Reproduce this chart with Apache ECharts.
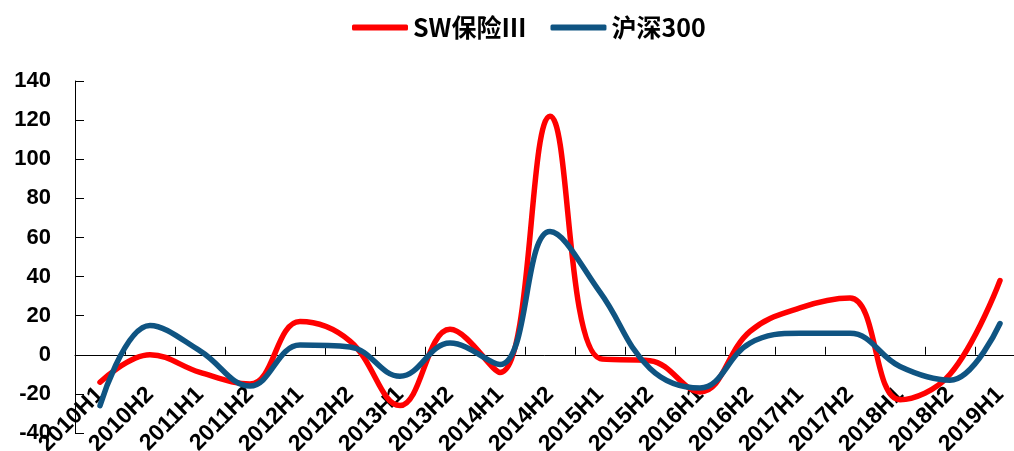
<!DOCTYPE html>
<html>
<head>
<meta charset="utf-8">
<script src="https://cdn.jsdelivr.net/npm/echarts@6/dist/echarts.min.js"></script>
<style>
  html, body { margin: 0; padding: 0; background: #fff; }
  #chart { width: 1014px; height: 451px; }
</style>
</head>
<body>
<div id="chart"></div>
<script>
// 半年度涨跌幅
const categories = ['2010H1', '2010H2', '2011H1', '2011H2', '2012H1', '2012H2', '2013H1', '2013H2',
  '2014H1', '2014H2', '2015H1', '2015H2', '2016H1', '2016H2', '2017H1', '2017H2', '2018H1', '2018H2', '2019H1']
const insuranceValues = [-14, 0, -9, -15, 17, 7, -26, 13, -9, 122, -2, -3, -19, 12, 24, 29, -23, -10, 38]
const hs300Values = [-26, 15, 2, -16, 5, 4, -11, 6, -5, 63, 32, -7, -17, 6, 11, 11, -6, -13, 16]

const seriesNames = ['SW保险Ⅲ', '沪深300']
const seriesColors = ['#ff0000', '#0f5482']

const chart = echarts.init(document.getElementById('chart'))

const labelFont = {
  color: '#000',
  fontWeight: 'bold',
  fontSize: 22,
  fontFamily: 'Liberation Sans, Arial, sans-serif'
}

chart.setOption({
  animation: false,
  legend: {
    top: 10,
    left: 347,
    itemWidth: 56,
    itemHeight: 6,
    itemGap: 24,
    icon: 'roundRect',
    textStyle: {
      color: '#000',
      fontWeight: 'bold',
      fontSize: 25,
      fontFamily: 'Noto Sans CJK SC, sans-serif'
    },
    data: seriesNames
  },
  grid: {
    left: 75,
    right: -11,
    top: 81,
    bottom: 18,
    outerBounds: { left: -300, right: -300, top: -300, bottom: -300 }
  },
  xAxis: {
    type: 'category',
    data: categories,
    boundaryGap: true,
    axisLine: { show: true, onZero: true, lineStyle: { color: '#000', width: 1 } },
    axisTick: { show: true, interval: 0, inside: true, length: 8, lineStyle: { color: '#000' } },
    // 标签固定在图表底部，向上偏移
    axisLabel: { ...labelFont, fontSize: 23, show: true, rotate: 45, margin: -42, interval: 0 },
    splitLine: { show: false }
  },
  yAxis: {
    type: 'value',
    min: -40,
    max: 140,
    interval: 20,
    axisLine: { show: true, lineStyle: { color: '#000', width: 1 } },
    axisTick: { show: true, inside: true, length: 9, lineStyle: { color: '#000' } },
    axisLabel: { ...labelFont, margin: 24 },
    splitLine: { show: false }
  },
  series: [
    {
      name: seriesNames[0],
      type: 'line',
      data: insuranceValues,
      smooth: 0.4,
      symbol: 'none',
      lineStyle: { color: seriesColors[0], width: 5.5, cap: 'round' },
      itemStyle: { color: seriesColors[0] }
    },
    {
      name: seriesNames[1],
      type: 'line',
      data: hs300Values,
      smooth: 0.4,
      symbol: 'none',
      lineStyle: { color: seriesColors[1], width: 5.5, cap: 'round' },
      itemStyle: { color: seriesColors[1] }
    }
  ]
})
</script>
</body>
</html>
